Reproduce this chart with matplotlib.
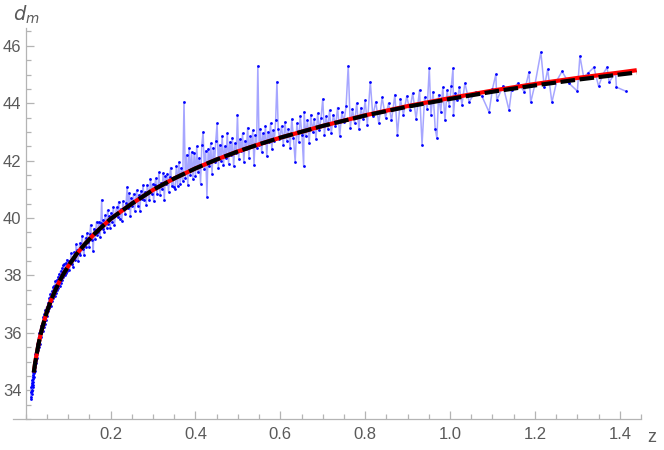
import numpy as np
import matplotlib.pyplot as plt
from matplotlib.ticker import MultipleLocator

# Datos (z, modulo de distancia)
z_datos = [
    0.0123, 0.0127, 0.0131, 0.0134, 0.0138, 0.0141, 0.0145, 0.0149, 0.0152, 0.0156,
    0.0160, 0.0163, 0.0167, 0.0171, 0.0175, 0.0179, 0.0183, 0.0187, 0.0191, 0.0196,
    0.0201, 0.0206, 0.0211, 0.0216, 0.0222, 0.0228, 0.0234, 0.0240, 0.0247, 0.0254,
    0.0261, 0.0268, 0.0276, 0.0284, 0.0292, 0.0301, 0.0310, 0.0319, 0.0329, 0.0339,
    0.036, 0.037, 0.038, 0.040, 0.041, 0.042, 0.044, 0.045, 0.046, 0.048,
    0.049, 0.050, 0.052, 0.053, 0.055, 0.056, 0.058, 0.059, 0.061, 0.062,
    0.064, 0.065, 0.067, 0.068, 0.070, 0.071, 0.073, 0.074, 0.076, 0.077,
    0.079, 0.080, 0.082, 0.083, 0.085, 0.086, 0.088, 0.089, 0.091, 0.092,
    0.094, 0.095, 0.097, 0.098,
    0.101, 0.103, 0.105, 0.107, 0.109, 0.111, 0.113, 0.115, 0.117, 0.119,
    0.121, 0.123, 0.125, 0.127, 0.129, 0.131, 0.133, 0.135, 0.137, 0.139,
    0.141, 0.143, 0.145, 0.147, 0.149, 0.151, 0.153, 0.155, 0.157, 0.159,
    0.161, 0.163, 0.165, 0.167, 0.169, 0.171, 0.173, 0.175, 0.177, 0.179,
    0.181, 0.183, 0.185, 0.187, 0.189, 0.191, 0.193, 0.195, 0.197, 0.199,
    0.2015, 0.2040, 0.2065, 0.2090, 0.2115, 0.2140, 0.2165, 0.2190, 0.2215, 0.2240,
    0.2265, 0.2290, 0.2315, 0.2340, 0.2365, 0.2390, 0.2415, 0.2440, 0.2465, 0.2490,
    0.2515, 0.2540, 0.2565, 0.2590, 0.2615, 0.2640, 0.2665, 0.2690, 0.2715, 0.2740,
    0.2765, 0.2790, 0.2815, 0.2840, 0.2865, 0.2890, 0.2915, 0.2940, 0.2965, 0.2990,
    0.3015, 0.3040, 0.3065, 0.3090, 0.3115, 0.3140, 0.3165, 0.3190, 0.3215, 0.3240,
    0.3265, 0.3290, 0.3315, 0.3340, 0.3365, 0.3390, 0.3415, 0.3440, 0.3465, 0.3490,
    0.352, 0.355, 0.358, 0.361, 0.364, 0.367, 0.370, 0.373, 0.376, 0.379,
    0.382, 0.385, 0.388, 0.391, 0.394, 0.397, 0.400, 0.403, 0.406, 0.409,
    0.412, 0.415, 0.418, 0.421, 0.424, 0.427, 0.430, 0.433, 0.436, 0.439,
    0.442, 0.445, 0.448, 0.451, 0.454, 0.457, 0.460, 0.463, 0.466, 0.469,
    0.472, 0.475, 0.478, 0.481, 0.484, 0.487, 0.490, 0.493, 0.496, 0.499,
    0.502, 0.505, 0.508, 0.511, 0.514, 0.517, 0.520, 0.523, 0.526, 0.529,
    0.532, 0.535, 0.538, 0.541, 0.544, 0.547, 0.550, 0.553, 0.556, 0.559,
    0.562, 0.565, 0.568, 0.571, 0.574, 0.577, 0.580, 0.583, 0.586, 0.589,
    0.592, 0.595, 0.598,
    0.603, 0.607, 0.611, 0.615, 0.619, 0.623, 0.627, 0.631, 0.635, 0.639,
    0.643, 0.647, 0.651, 0.655, 0.656, 0.660, 0.664, 0.668, 0.672, 0.676,
    0.680, 0.684, 0.688, 0.692, 0.696, 0.700, 0.704, 0.708, 0.712, 0.716,
    0.720, 0.725, 0.730, 0.735, 0.740, 0.745, 0.750, 0.755, 0.760, 0.765,
    0.770, 0.775, 0.780, 0.785, 0.790, 0.795, 0.800, 0.805, 0.812, 0.818,
    0.825, 0.832, 0.840, 0.848, 0.855, 0.862, 0.870, 0.876, 0.883, 0.890,
    0.898,
    0.905, 0.912, 0.920, 0.928, 0.934, 0.940, 0.946, 0.951, 0.955, 0.960,
    0.965, 0.969, 0.973, 0.978, 0.983, 0.988, 0.993, 0.998, 1.003, 1.007,
    1.008, 1.012, 1.017, 1.022, 1.028, 1.035, 1.045, 1.060, 1.075, 1.092,
    1.100, 1.108, 1.110, 1.125, 1.139, 1.145, 1.160, 1.175, 1.186, 1.190,
    1.200, 1.214, 1.222, 1.230, 1.240, 1.252, 1.264, 1.280, 1.300, 1.306,
    1.315, 1.325, 1.339, 1.350, 1.360, 1.370, 1.375, 1.390, 1.392, 1.414,
]
dm_datos = [
    33.70, 33.95, 33.78, 34.10, 33.88, 34.20, 33.96, 34.25, 34.02, 34.35,
    34.12, 34.48, 34.20, 34.55, 34.30, 34.62, 34.40, 34.75, 34.45, 34.90,
    34.60, 35.00, 34.68, 35.10, 34.80, 35.25, 34.95, 35.35, 35.05, 35.45,
    35.12, 35.60, 35.25, 35.72, 35.40, 35.85, 35.50, 36.00, 35.62, 36.05,
    36.25, 35.85, 36.30, 36.05, 36.55, 36.20, 36.65, 36.30, 36.80, 36.45,
    36.90, 36.60, 37.05, 36.75, 37.20, 36.85, 37.35, 36.95, 37.45, 37.10,
    37.60, 37.20, 37.65, 37.30, 37.80, 37.40, 37.85, 37.50, 37.95, 37.55,
    38.05, 37.65, 38.15, 37.75, 38.25, 37.85, 38.35, 37.95, 38.40, 38.00,
    38.45, 38.10, 38.55, 38.15,
    38.49, 38.18, 38.48, 38.77, 38.41, 38.31, 38.80, 38.64, 38.54, 39.08,
    38.87, 38.50, 38.79, 39.12, 38.71, 39.04, 39.38, 38.91, 38.70, 39.13,
    39.32, 39.00, 39.48, 39.16, 38.99, 39.43, 39.76, 39.24, 39.42, 38.85,
    39.63, 39.26, 39.59, 39.87, 39.40, 39.52, 39.85, 39.33, 39.81, 40.64,
    39.61, 39.94, 39.52, 40.09, 39.87, 39.65, 40.27, 39.80, 40.08, 39.66,
    40.19, 39.86, 40.39, 39.77, 40.09, 40.37, 40.04, 40.57, 39.95, 40.32,
    39.90, 40.58, 40.35, 40.13, 40.51, 41.08, 40.36, 40.88, 40.06, 40.69,
    40.41, 40.84, 40.26, 40.63, 40.96, 40.43, 40.81, 40.23, 40.95, 40.68,
    41.15, 40.62, 40.90, 40.47, 41.15, 40.92, 40.64, 41.37, 40.84, 41.17,
    40.59, 41.16, 41.38, 40.85, 41.07, 41.59, 40.81, 41.23, 41.00, 41.57,
    40.64, 41.46, 41.18, 41.55, 40.92, 41.44, 41.76, 41.13, 41.40, 41.07,
    41.00, 41.80, 41.10, 41.95, 41.20, 41.75, 41.30, 44.05, 41.40, 42.20,
    41.15, 42.45, 41.50, 42.30, 41.35, 42.25, 41.45, 42.50, 41.60, 42.10,
    41.20, 42.55, 43.00, 41.70, 42.35, 40.75, 42.40, 41.80, 42.60, 41.55,
    42.45, 41.95, 42.70, 43.30, 41.75, 42.55, 42.00, 42.85, 41.85, 42.50,
    42.10, 42.95, 41.90, 42.65, 42.20, 42.80, 41.80, 42.60, 42.25, 43.60,
    42.05, 42.75, 42.35, 42.95, 41.95, 42.70, 42.40, 43.15, 42.10, 42.85,
    42.50, 43.05, 41.85, 42.90, 42.45, 45.30, 42.55, 43.10, 42.30, 42.95,
    42.60, 43.20, 42.15, 43.00, 42.65, 43.30, 42.40, 43.05, 42.70, 43.40,
    44.75, 43.10, 42.75,
    43.20, 42.55, 43.35, 42.70, 43.10, 42.45, 43.45, 42.80, 41.95, 43.30,
    42.65, 43.55, 42.90, 41.80, 43.70, 42.85, 43.40, 42.60, 43.60, 43.00,
    43.45, 42.75, 43.65, 43.05, 43.50, 44.15, 42.90, 43.55, 43.10, 43.75,
    42.95, 43.60, 43.20, 43.85, 42.85, 43.70, 43.35, 43.90, 45.30, 43.15,
    43.80, 43.30, 44.00, 43.10, 43.85, 43.45, 44.10, 43.25, 44.75, 43.55,
    44.05, 43.30, 44.20, 43.50, 44.00, 43.40, 44.30, 42.90, 44.15, 43.60,
    44.25,
    43.75, 44.35, 43.45, 44.45, 42.55, 44.20, 43.80, 45.22, 43.60, 44.40,
    43.10, 42.78, 44.30, 43.70, 44.55, 43.40, 44.45, 43.90, 44.60, 45.22,
    43.58, 44.35, 44.10, 44.55, 43.95, 44.70, 44.05, 44.40, 44.25, 43.69,
    44.50, 45.01, 44.10, 44.60, 43.76, 44.45, 44.70, 44.40, 45.08, 44.03,
    44.65, 45.78, 44.55, 45.18, 44.03, 44.80, 45.11, 44.70, 44.42, 45.64,
    44.90, 45.05, 45.25, 44.59, 45.00, 45.25, 44.73, 45.08, 44.56, 44.42,
]

# Curvas de los modelos
z_modelo = [0.019, 0.022, 0.025, 0.03, 0.035, 0.04, 0.05, 0.06, 0.07, 0.08, 0.09,
            0.10, 0.12, 0.14, 0.16, 0.18, 0.20, 0.25, 0.30, 0.35, 0.40, 0.45,
            0.50, 0.55, 0.60, 0.70, 0.80, 0.90, 1.00, 1.10, 1.20, 1.30, 1.40, 1.44]
dm_negro = [34.62, 34.93, 35.19, 35.60, 35.94, 36.24, 36.74, 37.15, 37.50, 37.81, 38.08,
            38.32, 38.75, 39.10, 39.42, 39.70, 39.97, 40.50, 40.98, 41.38, 41.73, 42.04,
            42.32, 42.57, 42.80, 43.21, 43.57, 43.88, 44.15, 44.40, 44.62, 44.82, 45.00, 45.07]
dm_rojo = [34.62, 34.93, 35.19, 35.60, 35.94, 36.24, 36.74, 37.15, 37.50, 37.81, 38.08,
           38.32, 38.75, 39.10, 39.42, 39.70, 39.97, 40.50, 40.98, 41.38, 41.73, 42.04,
           42.32, 42.57, 42.80, 43.21, 43.58, 43.90, 44.18, 44.44, 44.67, 44.88, 45.07, 45.15]

gris_eje = '#b4b4b4'
gris_texto = '#5a5a5a'
plt.rcParams['font.family'] = ['Liberation Sans', 'DejaVu Sans']

fig = plt.figure(figsize=(6.64, 4.5), dpi=100)
ax = fig.add_axes([13 / 664, 31 / 450, 628 / 664, 391 / 450])

# Datos unidos y puntos
ax.plot(z_datos, dm_datos, '-', color='#a6a6ff', lw=1.1, zorder=1)
ax.plot(z_datos, dm_datos, 'o', color='#0000ff', ms=2.0, mec='none', zorder=2)

# Modelos
ax.plot(z_modelo, dm_rojo, '-', color='#ff0000', lw=3.0, zorder=3, solid_capstyle='butt')
ax.plot(z_modelo, dm_negro, '-', color='black', lw=3.0, dashes=(3.5, 1.1), zorder=4)

ax.set_xlim(-0.03, 1.45)
ax.set_ylim(33, 46.62)

for lado in ['top', 'right']:
    ax.spines[lado].set_visible(False)
ax.spines['left'].set_position(('data', 0))
for lado in ['left', 'bottom']:
    ax.spines[lado].set_color(gris_eje)
    ax.spines[lado].set_linewidth(0.9)

ax.set_xticks([0.2, 0.4, 0.6, 0.8, 1.0, 1.2, 1.4])
ax.set_xticklabels(['0.2', '0.4', '0.6', '0.8', '1.0', '1.2', '1.4'])
ax.xaxis.set_minor_locator(MultipleLocator(0.05))
ax.set_yticks([34, 36, 38, 40, 42, 44, 46])
ax.yaxis.set_minor_locator(MultipleLocator(0.5))

ax.tick_params(which='both', direction='in', color=gris_eje, labelcolor=gris_texto,
               labelsize=12, width=0.9)
ax.tick_params(which='major', length=6)
ax.tick_params(which='minor', length=3.5)
ax.tick_params(axis='x', pad=6)
ax.tick_params(axis='y', pad=3)

fig.text(652 / 664, 1 - 438 / 450, 'z', ha='center', va='center', color=gris_texto, fontsize=13)
fig.text(26 / 664, 1 - 15 / 450, r'$d_m$', ha='center', va='center', color=gris_texto, fontsize=14)

fig.savefig('out.png', dpi=100)
